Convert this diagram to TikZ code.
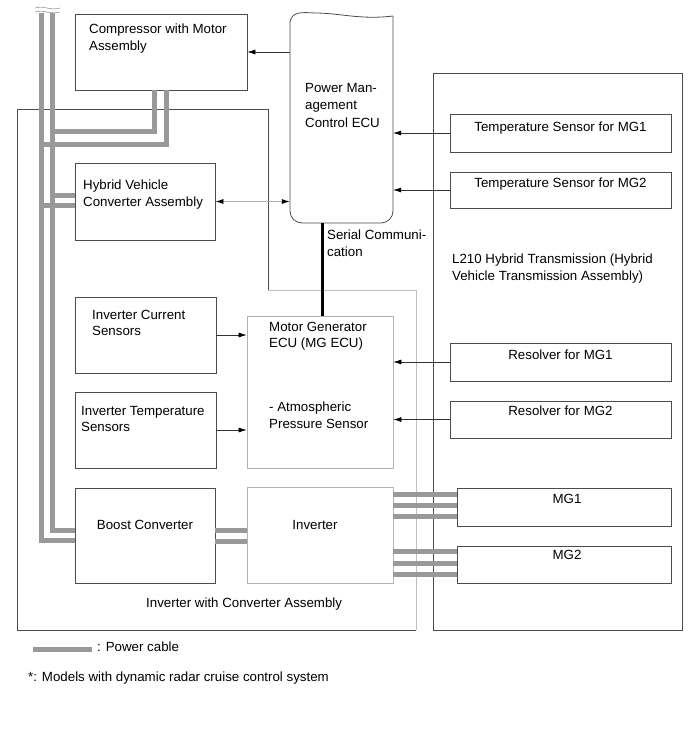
\documentclass[tikz,border=0pt]{standalone}
\usepackage{fontspec}
\setmainfont{Liberation Sans}
\usetikzlibrary{arrows}
\usetikzlibrary{arrows.meta}
\usetikzlibrary{positioning}
\usetikzlibrary{calc}

\begin{document}
\begin{tikzpicture}[x=1pt, y=-1pt, font=\fontsize{13.3}{16.5}\selectfont]
	\tikzstyle{box} = [rectangle, draw=black!70, line width=0.8pt, inner sep=0pt]
	\tikzstyle{lightbox} = [box, draw=black!30]
	\tikzstyle{txt} = [inner sep=0pt, align=left, anchor=north west]
	\tikzstyle{ctxt} = [inner sep=0pt, align=center, anchor=north]
	\tikzstyle{frame} = [draw=black!70, line width=0.8pt]
	\tikzstyle{lightframe} = [draw=black!25, line width=1pt]
	\tikzstyle{sig} = [draw=black!80, line width=0.6pt, -{Latex[black, length=8pt, width=5pt]}]
	\tikzstyle{cable} = [draw=black!40, line width=5pt]
	\useasboundingbox (0,0) rectangle (690,756);
	% frames
	\node (hvt)[box] at (557.5,351.5) [minimum width=249, minimum height=557] {};
	\draw[frame] (268,290) -- (268,109) -- (17,109) -- (17,630) -- (416,630);
	\draw[lightframe] (268,290) -- (416,290) -- (416,630);
	% boxes
	\node (comp)[box, minimum width=172, minimum height=76] at (161,52) {};
	\node (hvc)[box, minimum width=140, minimum height=77] at (145,201.5) {};
	\node (curs)[box, minimum width=141, minimum height=76] at (145.5,335) {};
	\node (temps)[box, minimum width=141, minimum height=76] at (145.5,430) {};
	\node (boost)[box, minimum width=140, minimum height=95] at (145,535.5) {};
	\node (mgecu)[lightbox, minimum width=146, minimum height=152] at (320,392) {};
	\node (inv)[lightbox, minimum width=146, minimum height=96] at (320,535) {};
	\node (tsone)[box, minimum width=221, minimum height=38] at (560.5,133) {};
	\node (tstwo)[box, minimum width=221, minimum height=36] at (560.5,190) {};
	\node (resone)[box, minimum width=221, minimum height=38] at (560.5,362) {};
	\node (restwo)[box, minimum width=221, minimum height=37] at (560.5,419.5) {};
	\node (mgone)[box, minimum width=214, minimum height=38] at (564,507) {};
	\node (mgtwo)[box, minimum width=214, minimum height=37] at (564,564.5) {};
	\node (ecu)[rectangle, inner sep=0pt, minimum width=103, minimum height=210] at (341.5,118) {};
	\draw[frame, rounded corners=12pt] (290,22) -- (290,223) -- (393,223) -- (393,16);
	\draw[frame] (393,16) .. controls (360,20) and (340,13) .. (315,13) .. controls (300,12) and (292,12) .. (290,22);
	% texts
	\node (comptext)[txt] at (89,24) {Compressor with Motor\\Assembly};
	\node (hvctext)[txt] at (83,180) {Hybrid Vehicle\\Converter Assembly};
	\node (curstext)[txt] at (92,310) {Inverter Current\\Sensors};
	\node (tempstext)[txt] at (81,406) {Inverter Temperature\\Sensors};
	\node (boosttext)[ctxt] at (145,520) {Boost Converter};
	\node (invtext)[ctxt] at (315,520) {Inverter};
	\node (mgecutext)[txt] at (269,322) {Motor Generator\\ECU (MG ECU)};
	\node (apstext)[txt] at (269,402) {- Atmospheric\\Pressure Sensor};
	\node (ecutext)[txt, font=\fontsize{13.3}{17.5}\selectfont] at (305,83) {Power Man-\\agement\\Control ECU};
	\node (serialtext)[txt] at (327,230) {Serial Communi-\\cation};
	\node (tsonetext)[ctxt] at (560.5,122) {Temperature Sensor for MG1};
	\node (tstwotext)[ctxt] at (560.5,178) {Temperature Sensor for MG2};
	\node (hvttext)[txt] at (452,254) {L210 Hybrid Transmission (Hybrid\\Vehicle Transmission Assembly)};
	\node (resonetext)[ctxt] at (560.5,350) {Resolver for MG1};
	\node (restwotext)[ctxt] at (560.5,406) {Resolver for MG2};
	\node (mgonetext)[ctxt] at (567,494) {MG1};
	\node (mgtwotext)[ctxt] at (567,550) {MG2};
	\node (assytext)[txt] at (146,598) {Inverter with Converter Assembly};
	\node (legendtext)[txt] at (97,642) {: Power cable};
	\node (notetext)[txt] at (28,672) {*: Models with dynamic radar cruise control system};
	% power cables
	\coordinate (cinner) at (52.5,13);
	\coordinate (couter) at (41.5,13);
	\coordinate (legendstart) at (33,649);
	\draw[cable] (cinner) -- (52.5,530) -- (boost.west |- 0,530);
	\draw[cable] (couter) -- (41.5,540) -- (boost.west |- 0,540);
	\draw[cable] (comp.south -| 154.5,0) -- (154.5,131.5) -- (52.5,131.5);
	\draw[cable] (comp.south -| 166.5,0) -- (166.5,144.5) -- (41.5,144.5);
	\draw[cable] (52.5,195) -- (hvc.west |- 0,195);
	\draw[cable] (41.5,205.5) -- (hvc.west |- 0,205.5);
	\draw[cable] (boost.east |- 0,530) -- (inv.west |- 0,530);
	\draw[cable] (boost.east |- 0,541) -- (inv.west |- 0,541);
	\draw[cable] (inv.east |- 0,494.5) -- (mgone.west |- 0,494.5);
	\draw[cable] (inv.east |- 0,505.5) -- (mgone.west |- 0,505.5);
	\draw[cable] (inv.east |- 0,516.5) -- (mgone.west |- 0,516.5);
	\draw[cable] (inv.east |- 0,551.5) -- (mgtwo.west |- 0,551.5);
	\draw[cable] (inv.east |- 0,563.5) -- (mgtwo.west |- 0,563.5);
	\draw[cable] (inv.east |- 0,574.5) -- (mgtwo.west |- 0,574.5);
	\draw[cable] (legendstart) -- ++(59,0);
	\draw[draw=black!40, line width=0.6pt] (35,8) .. controls (43,5) and (50,11) .. (60,8);
	\draw[draw=black!40, line width=0.6pt] (35,12) .. controls (43,9) and (50,15) .. (60,12);
	% signals
	\draw[sig] (ecu.west |- comp.east) -- (comp.east);
	\draw[draw=black!30, line width=0.8pt, {Latex[black, length=8pt, width=5pt]}-{Latex[black, length=8pt, width=5pt]}] (hvc.east) -- (ecu.west |- hvc.east);
	\draw[sig] (tsone.west) -- (tsone.west -| ecu.east);
	\draw[sig] (tstwo.west) -- (tstwo.west -| ecu.east);
	\draw[sig] (curs.east) -- (curs.east -| mgecu.west);
	\draw[sig] (temps.east) -- (temps.east -| mgecu.west);
	\draw[sig] (resone.west) -- (resone.west -| mgecu.east);
	\draw[sig] (restwo.west) -- (restwo.west -| mgecu.east);
	\draw[line width=3pt] (ecu.south -| 322,0) -- (mgecu.north -| 322,0);
\end{tikzpicture}
\end{document}
